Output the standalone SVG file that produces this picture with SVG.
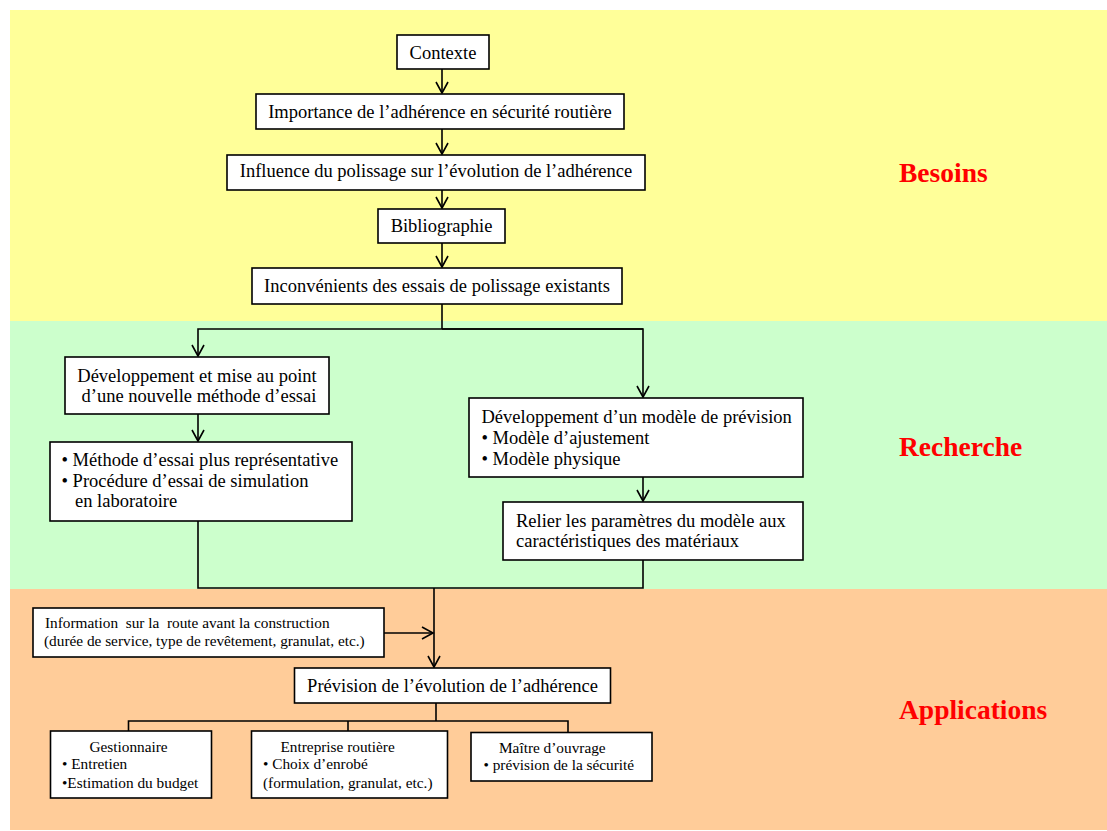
<svg xmlns="http://www.w3.org/2000/svg" width="1107" height="831" viewBox="0 0 1107 831">
<style>
.box{fill:#fff;stroke:#000;stroke-width:1.6}
.t{font-family:"Liberation Serif","Times New Roman",serif;font-size:18.5px;fill:#000}
.s{font-family:"Liberation Serif","Times New Roman",serif;font-size:15.3px;fill:#000}
.c{text-anchor:middle}
.lbl{font-family:"Liberation Serif","Times New Roman",serif;font-size:27.5px;font-weight:bold;fill:#ff0000}
.ln{fill:none;stroke:#000;stroke-width:1.6}
</style>
<defs>
<marker id="ah" markerUnits="userSpaceOnUse" viewBox="-13 -8 15 16" markerWidth="15" markerHeight="16" refX="0" refY="0" orient="auto">
<path d="M-11,-6 L0,0 L-11,6" fill="none" stroke="#000" stroke-width="1.6"/>
</marker>
</defs>
<g id="bands">
<rect x="10" y="10" width="1097" height="311" fill="#FFFF99"/>
<rect x="10" y="321" width="1097" height="268" fill="#CCFFCC"/>
<rect x="10" y="589" width="1097" height="241" fill="#FFCC99"/>
</g>
<g id="labels">
<text class="lbl" x="899" y="182">Besoins</text>
<text class="lbl" x="899" y="456">Recherche</text>
<text class="lbl" x="899" y="719">Applications</text>
</g>
<g id="connectors">
<line class="ln" x1="442" y1="69" x2="442" y2="93" marker-end="url(#ah)"/>
<line class="ln" x1="442" y1="129" x2="442" y2="154" marker-end="url(#ah)"/>
<line class="ln" x1="442" y1="190" x2="442" y2="208" marker-end="url(#ah)"/>
<line class="ln" x1="442" y1="243" x2="442" y2="267" marker-end="url(#ah)"/>
<polyline class="ln" points="442,304 442,329"/>
<polyline class="ln" points="643,329 198,329 198,356" marker-end="url(#ah)"/>
<polyline class="ln" points="442,329 643,329 643,397" marker-end="url(#ah)"/>
<line class="ln" x1="198" y1="414" x2="198" y2="441" marker-end="url(#ah)"/>
<line class="ln" x1="643" y1="477" x2="643" y2="501" marker-end="url(#ah)"/>
<polyline class="ln" points="198,521 198,588 643,588 643,560"/>
<line class="ln" x1="434" y1="588" x2="434" y2="667" marker-end="url(#ah)"/>
<line class="ln" x1="384" y1="633" x2="433" y2="633" marker-end="url(#ah)"/>
<polyline class="ln" points="436,703 436,721"/>
<polyline class="ln" points="128.5,731 128.5,721 568,721 568,732"/>
<line class="ln" x1="348" y1="721" x2="348" y2="731"/>
</g>
<g id="n-contexte">
<rect class="box" x="397" y="35" width="92" height="34"/>
<text class="t c" x="443" y="59">Contexte</text>
</g>
<g id="n-importance">
<rect class="box" x="256" y="94" width="368" height="35"/>
<text class="t c" x="440" y="117.5">Importance de l’adhérence en sécurité routière</text>
</g>
<g id="n-influence">
<rect class="box" x="227" y="155" width="418" height="35"/>
<text class="t c" x="436" y="177">Influence du polissage sur l’évolution de l’adhérence</text>
</g>
<g id="n-biblio">
<rect class="box" x="378" y="209" width="127" height="34"/>
<text class="t c" x="441.5" y="232">Bibliographie</text>
</g>
<g id="n-inconv">
<rect class="box" x="252" y="268" width="370" height="36"/>
<text class="t c" x="437" y="292">Inconvénients des essais de polissage existants</text>
</g>
<g id="n-dev-methode">
<rect class="box" x="65" y="357" width="264" height="57"/>
<text class="t c" x="197" y="382">Développement et mise au point</text>
<text class="t c" x="199" y="402">d’une nouvelle méthode d’essai</text>
</g>
<g id="n-methode">
<rect class="box" x="50" y="442" width="302" height="79"/>
<text class="t" x="61.5" y="466">• Méthode d’essai plus représentative</text>
<text class="t" x="61.5" y="486.5">• Procédure d’essai de simulation</text>
<text class="t" x="75" y="507">en laboratoire</text>
</g>
<g id="n-modele">
<rect class="box" x="469" y="398" width="334" height="79"/>
<text class="t" x="481.5" y="422.5">Développement d’un modèle de prévision</text>
<text class="t" x="481.5" y="443.5">• Modèle d’ajustement</text>
<text class="t" x="481.5" y="465">• Modèle physique</text>
</g>
<g id="n-relier">
<rect class="box" x="503" y="502" width="300" height="58"/>
<text class="t" x="516" y="527">Relier les paramètres du modèle aux</text>
<text class="t" x="516" y="547">caractéristiques des matériaux</text>
</g>
<g id="n-info">
<rect class="box" x="33" y="608" width="351" height="49"/>
<text class="s" x="45" y="627.5" xml:space="preserve">Information  sur la  route avant la construction</text>
<text class="s" x="44" y="646">(durée de service, type de revêtement, granulat, etc.)</text>
</g>
<g id="n-prevision">
<rect class="box" x="294.5" y="668" width="316" height="35"/>
<text class="t c" x="452.5" y="692">Prévision de l’évolution de l’adhérence</text>
</g>
<g id="n-gestionnaire">
<rect class="box" x="50.5" y="731" width="161" height="67"/>
<text class="s" x="89.5" y="752">Gestionnaire</text>
<text class="s" x="62" y="768.5">• Entretien</text>
<text class="s" x="62" y="787.5">•Estimation du budget</text>
</g>
<g id="n-entreprise">
<rect class="box" x="251.5" y="731" width="196" height="67"/>
<text class="s" x="280.5" y="752">Entreprise routière</text>
<text class="s" x="263" y="768.5">• Choix d’enrobé</text>
<text class="s" x="263" y="787.5">(formulation, granulat, etc.)</text>
</g>
<g id="n-maitre">
<rect class="box" x="471" y="732.5" width="181" height="48.5"/>
<text class="s" x="499" y="752.5">Maître d’ouvrage</text>
<text class="s" x="483.5" y="770">• prévision de la sécurité</text>
</g>
</svg>
